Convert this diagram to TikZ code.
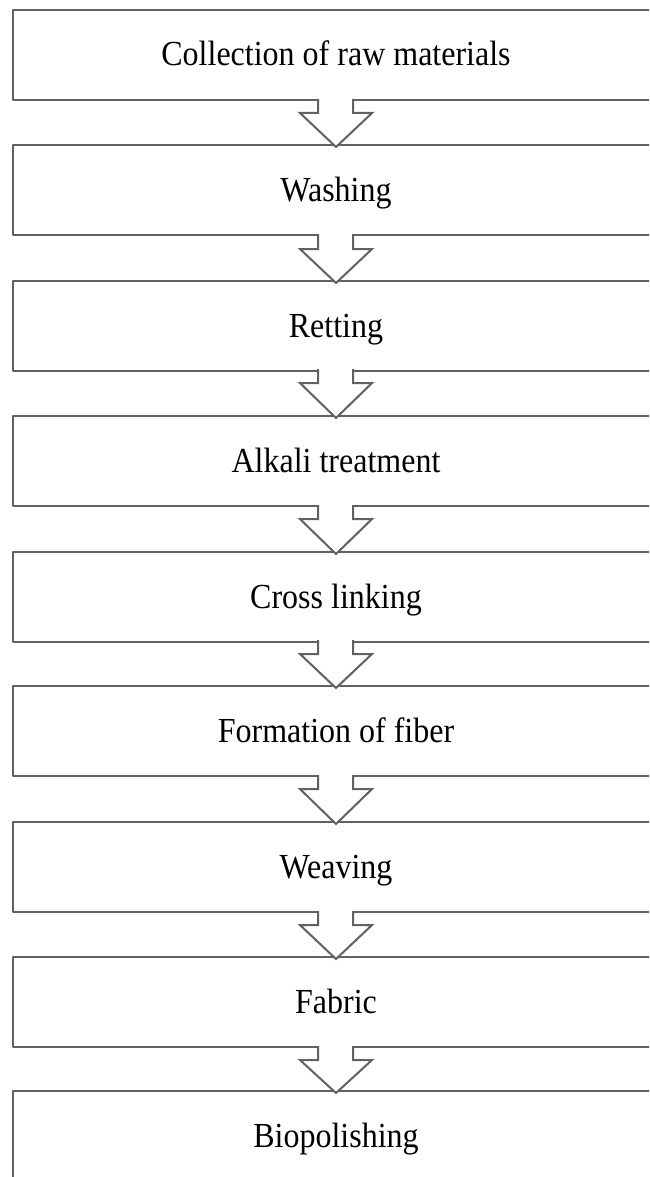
\documentclass[tikz,border=0pt]{standalone}
\usepackage{fontspec}
\setmainfont{Liberation Serif}
\begin{document}
\begin{tikzpicture}[x=1pt,y=-1pt]
\tikzset{
  boxline/.style={draw=black!62, line width=2.2pt, line join=round},
  steplabel/.style={font=\fontsize{32}{36}\selectfont, anchor=base, inner sep=0pt},
  arrowshape/.style={draw=black!62, line width=2pt, fill=white, line join=miter}
}
\useasboundingbox (0,0) rectangle (649,1177);
\clip (0,0) rectangle (649,1177);
\fill[white] (0,0) rectangle (649,1177);
\foreach \t/\txt/\n in {10/Collection of raw materials/1, 145/Washing/2, 281/Retting/3, 416/Alkali treatment/4, 552/Cross linking/5, 686/Formation of fiber/6, 822/Weaving/7, 957/Fabric/8, 1091/Biopolishing/9} {
  \draw[boxline] (670,\t) -- (13,\t) -- (13,\t+90) -- (670,\t+90);
  \node[steplabel] (s\n) at (336,\t+56) {\scalebox{1}[1.1]{\txt}};
}
\foreach \b/\nt in {100/145, 236/281, 370/416, 506/552, 641/686, 776/822, 912/957, 1047/1091} {
  \fill[white] (319,\b-1.6) rectangle (352,\b+2);
  \draw[arrowshape] (318,\b-1) -- (318,\b+13) -- (300,\b+13) -- (336,\nt+2) -- (372,\b+13) -- (353,\b+13) -- (353,\b-1);
}
\end{tikzpicture}
\end{document}
